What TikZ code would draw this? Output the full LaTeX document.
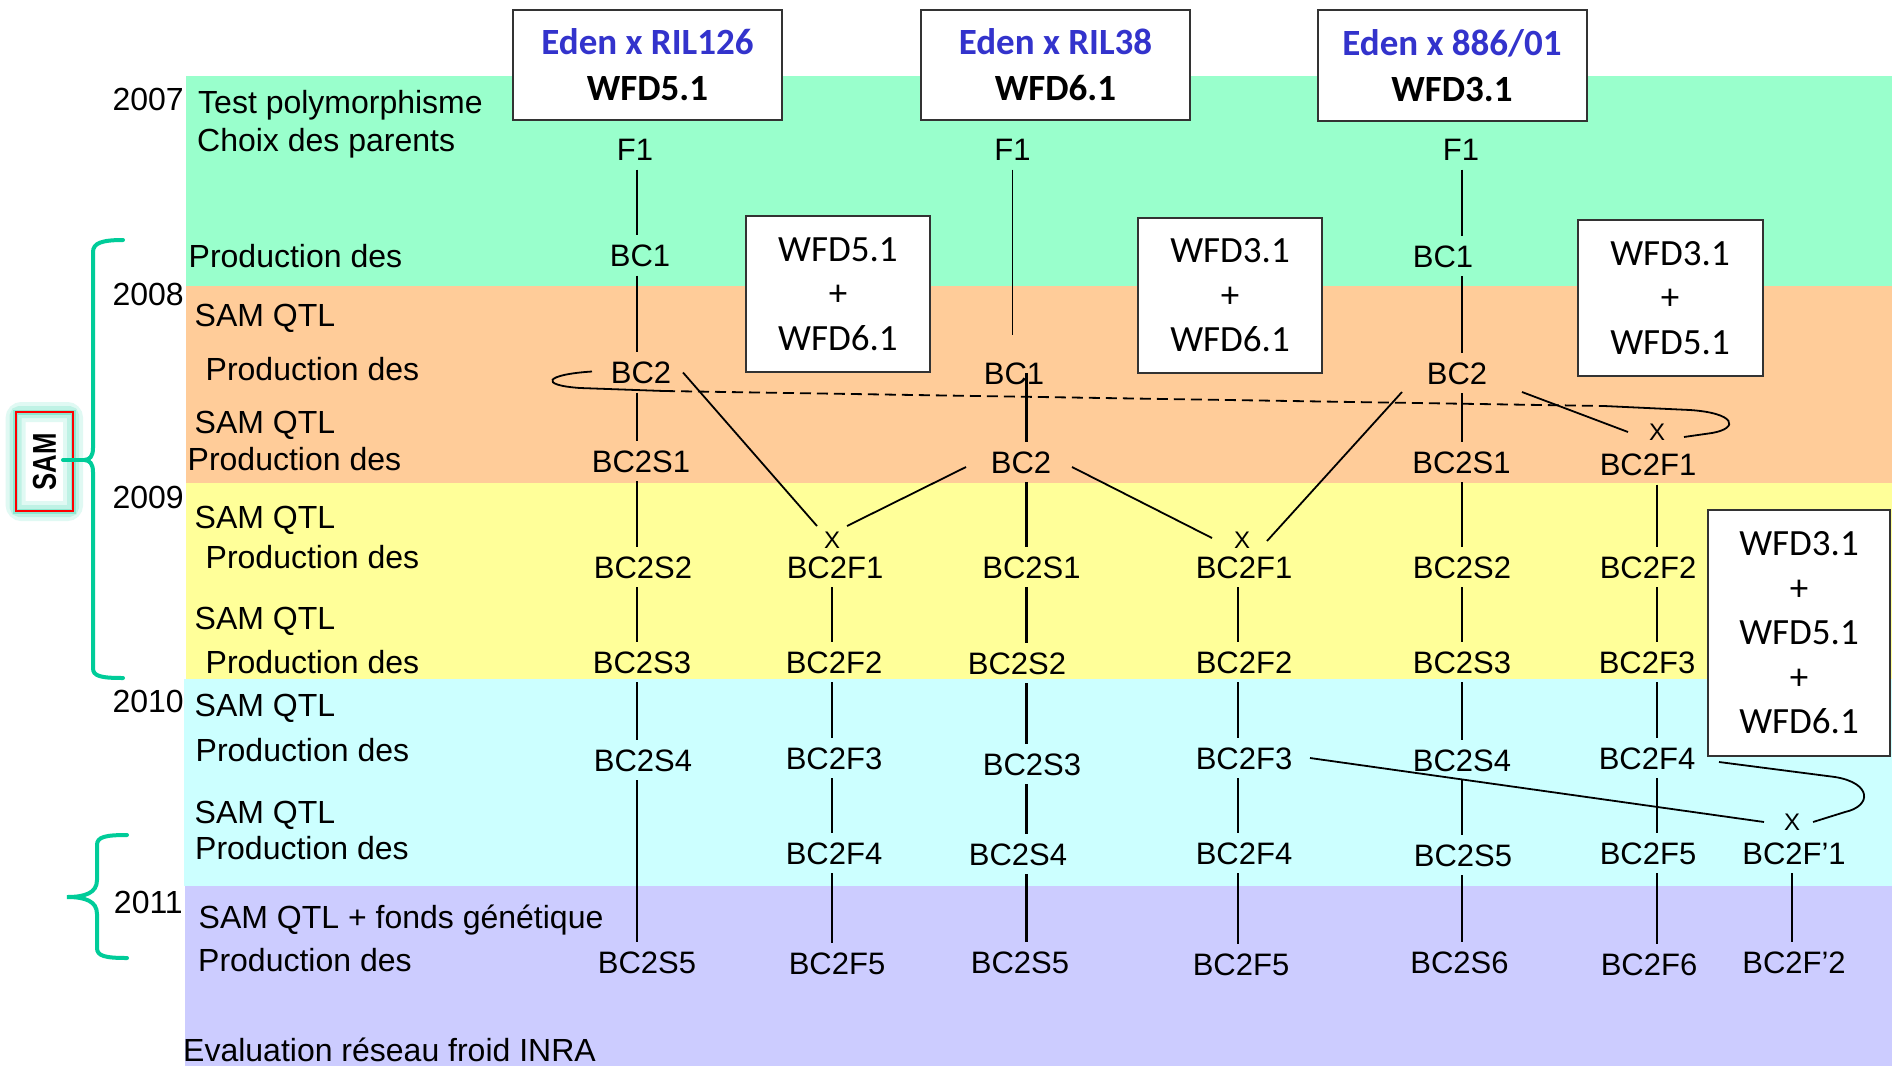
\documentclass[tikz,border=0pt]{standalone}
\usepackage{fontspec}
\setmainfont{Liberation Sans}
\newfontfamily\calfont{Carlito}
\definecolor{bgreen}{RGB}{153,255,204}
\definecolor{borange}{RGB}{255,204,153}
\definecolor{byellow}{RGB}{255,255,153}
\definecolor{bcyan}{RGB}{204,255,255}
\definecolor{bpurple}{RGB}{204,204,255}
\definecolor{edenblue}{RGB}{51,51,204}
\definecolor{bracecol}{RGB}{0,204,153}
\begin{document}
\begin{tikzpicture}[x=1pt,y=-1pt,
  lbl/.style={font=\fontsize{32}{38}\selectfont, anchor=base west, inner sep=0pt},
  yr/.style={font=\fontsize{32}{38}\selectfont, anchor=base east, inner sep=0pt},
  gen/.style={font=\fontsize{31}{31}\selectfont, inner xsep=0pt, inner ysep=9pt, text height=22pt, text depth=0pt},
  cross/.style={font=\fontsize{24}{24}\selectfont, inner sep=0pt, text height=17pt, text depth=0pt},
  link/.style={line width=1.8pt, black},
  thicklink/.style={line width=2.6pt, black},
  dlink/.style={line width=1.8pt, black, dash pattern=on 11pt off 6pt},
  parentbox/.style={draw=black!80, line width=2pt, fill=white, align=center, inner sep=0pt,
    font=\calfont\bfseries\fontsize{37}{46}\selectfont},
  wfdbox/.style={draw=black!80, line width=2pt, fill=white, align=center, inner sep=0pt,
    font=\calfont\fontsize{37}{44.5}\selectfont},
  brace/.style={draw=bracecol, line width=4pt, line cap=round}
]
\useasboundingbox (0,0) rectangle (1892,1066);
\fill[white] (0,0) rectangle (1892,1066);
% bands
\fill[bgreen] (186,76) rectangle (1892,286);
\fill[borange] (186,286) rectangle (1892,483);
\fill[byellow] (186,483) rectangle (1892,679);
\fill[bcyan] (184,679) rectangle (1892,886);
\fill[bpurple] (185,886) rectangle (1892,1066);

% years
\node[yr] (y2007) at (184,110) {2007};
\node[yr] (y2008) at (184,305) {2008};
\node[yr] (y2009) at (184,508) {2009};
\node[yr] (y2010) at (184,712) {2010};
\node[yr] (y2011) at (183,913) {2011};

% left labels
\node[lbl] (l1) at (198,113.3) {Test polymorphisme};
\node[lbl] (l2) at (197,151.7) {Choix des parents};
\node[lbl] (l3) at (188.5,267) {Production des};
\node[lbl] (l4) at (194.5,326.7) {SAM QTL};
\node[lbl] (l5) at (205.5,380) {Production des};
\node[lbl] (l6) at (194.5,433.3) {SAM QTL};
\node[lbl] (l7) at (187.5,470) {Production des};
\node[lbl] (l8) at (194.5,528.3) {SAM QTL};
\node[lbl] (l9) at (205.5,568.3) {Production des};
\node[lbl] (l10) at (194.5,629.3) {SAM QTL};
\node[lbl] (l11) at (205.5,673.3) {Production des};
\node[lbl] (l12) at (194.5,716.7) {SAM QTL};
\node[lbl] (l13) at (195.5,761.7) {Production des};
\node[lbl] (l14) at (194.5,823.3) {SAM QTL};
\node[lbl] (l15) at (195,859.3) {Production des};
\node[lbl] (l16) at (198.5,928.3) {SAM QTL + fonds génétique};
\node[lbl] (l17) at (198,971.7) {Production des};
\node[lbl, text depth=0pt] (l18) at (183,1061) {Evaluation réseau froid INRA};

% SAM box with glow
\fill[white] (15.7,412) rectangle (73,511);
\draw[bracecol!12, line width=20pt, rounded corners=6pt] (15.7,412) rectangle (73,511);
\draw[bracecol!25, line width=12pt, rounded corners=4pt] (15.7,412) rectangle (73,511);
\draw[bracecol!45, line width=5pt] (15.7,412) rectangle (73,511);
\draw[red, line width=1.6pt] (15.7,412) rectangle (73,511);
\node[rotate=90, font=\bfseries\fontsize{33}{33}\selectfont, inner sep=0pt] (sam) at (44.5,462) {\scalebox{0.78}[1]{SAM}};

% braces
\draw[brace] (123,240) .. controls (102,240) and (93,243) .. (93,252) -- (93,448)
  .. controls (93,456) and (90,460) .. (84,460) .. controls (90,460) and (93,464) .. (93,472)
  -- (93,668) .. controls (93,676) and (100,678) .. (123,678);
\draw[brace] (63,460) -- (84,460);
\draw[brace] (127,835) .. controls (105,835) and (97,837) .. (97,845) -- (97,880)
  .. controls (97,893) and (85,897) .. (67,897) .. controls (85,897) and (97,901) .. (97,914)
  -- (97,948) .. controls (97,956) and (105,958) .. (127,958);

% parent boxes
\node[parentbox, minimum width=269pt, minimum height=110pt] (p1) at (647.5,65) {{\color{edenblue}Eden x RIL126}\\WFD5.1};
\node[parentbox, minimum width=269pt, minimum height=110pt] (p2) at (1055.5,65) {{\color{edenblue}Eden x RIL38}\\WFD6.1};
\node[parentbox, minimum width=269pt, minimum height=111pt] (p3) at (1452,65.5) {{\color{edenblue}Eden x 886/01}\\WFD3.1};

% combination boxes
\node[wfdbox, minimum width=184pt, minimum height=156pt] (wa) at (838,294) {WFD5.1\\+\\WFD6.1};
\node[wfdbox, minimum width=184pt, minimum height=155pt] (wb) at (1230,295.5) {WFD3.1\\+\\WFD6.1};
\node[wfdbox, minimum width=185pt, minimum height=156pt] (wc) at (1670,298) {WFD3.1\\+\\WFD5.1};
\node[wfdbox, minimum width=182pt, minimum height=246pt] (wd) at (1799,633) {WFD3.1\\+\\WFD5.1\\+\\WFD6.1};

% column 1
\node[gen] (c1f1) at (635,149.5) {F1};
\node[gen] (c1b1) at (640,255.5) {BC1};
\node[gen] (c1b2) at (641,372.5) {BC2};
\node[gen] (c1s1) at (641,461) {BC2S1};
\node[gen] (c1s2) at (643,567) {BC2S2};
\node[gen] (c1s3) at (642,662) {BC2S3};
\node[gen] (c1s4) at (643,760) {BC2S4};
\node[gen] (c1s5) at (647,962) {BC2S5};
% column 2
\node[cross] (x1) at (832,540) {X};
\node[gen] (c2f1) at (835,567) {BC2F1};
\node[gen] (c2f2) at (834,662) {BC2F2};
\node[gen] (c2f3) at (834,758) {BC2F3};
\node[gen] (c2f4) at (834,853) {BC2F4};
\node[gen] (c2f5) at (837,963) {BC2F5};
% column 3
\node[gen] (c3f1) at (1012.5,149.5) {F1};
\node[gen] (c3b1) at (1014,373) {BC1};
\node[gen] (c3b2) at (1021,462) {BC2};
\node[gen] (c3s1) at (1031.5,567) {BC2S1};
\node[gen] (c3s2) at (1017,663) {BC2S2};
\node[gen] (c3s3) at (1032,764) {BC2S3};
\node[gen] (c3s4) at (1018,854) {BC2S4};
\node[gen] (c3s5) at (1020,962.5) {BC2S5};
% column 4
\node[cross] (x2) at (1242,540) {X};
\node[gen] (c4f1) at (1244,567) {BC2F1};
\node[gen] (c4f2) at (1244,662) {BC2F2};
\node[gen] (c4f3) at (1244,758) {BC2F3};
\node[gen] (c4f4) at (1244,853) {BC2F4};
\node[gen] (c4f5) at (1241,964) {BC2F5};
% column 5
\node[gen] (c5f1) at (1461,149.5) {F1};
\node[gen] (c5b1) at (1443,256) {BC1};
\node[gen] (c5b2) at (1457,373) {BC2};
\node[gen] (c5s1) at (1461.5,462) {BC2S1};
\node[gen] (c5s2) at (1462,567) {BC2S2};
\node[gen] (c5s3) at (1462,662) {BC2S3};
\node[gen] (c5s4) at (1462,760) {BC2S4};
\node[gen] (c5s5) at (1463,855) {BC2S5};
\node[gen] (c5s6) at (1459.5,962) {BC2S6};
% column 6
\node[cross] (x3) at (1657,432) {X};
\node[gen] (c6f1) at (1648,464.5) {BC2F1};
\node[gen] (c6f2) at (1648,567) {BC2F2};
\node[gen] (c6f3) at (1647,662) {BC2F3};
\node[gen] (c6f4) at (1647,758) {BC2F4};
\node[gen] (c6f5) at (1648,853) {BC2F5};
\node[gen] (c6f6) at (1649,964) {BC2F6};
% column 7
\node[cross] (x4) at (1792,822) {X};
\node[gen] (c7f1) at (1794,853) {BC2F’1};
\node[gen] (c7f2) at (1794,962.5) {BC2F’2};

% column line abscissae
\coordinate (k1) at (637,0);
\coordinate (k2) at (832,0);
\coordinate (k3) at (1026.5,0);
\coordinate (k4) at (1238,0);
\coordinate (k5) at (1462,0);
\coordinate (k6) at (1657,0);
\coordinate (k7) at (1792,0);

% vertical links
\foreach \a/\b/\k in {c1f1/c1b1/k1, c1b1/c1b2/k1, c1b2/c1s1/k1, c1s1/c1s2/k1, c1s2/c1s3/k1, c1s3/c1s4/k1, c1s4/c1s5/k1,
  c2f1/c2f2/k2, c2f2/c2f3/k2, c2f3/c2f4/k2, c2f4/c2f5/k2,
  c4f1/c4f2/k4, c4f2/c4f3/k4, c4f3/c4f4/k4, c4f4/c4f5/k4,
  c5f1/c5b1/k5, c5b1/c5b2/k5, c5b2/c5s1/k5, c5s1/c5s2/k5, c5s2/c5s3/k5, c5s3/c5s4/k5, c5s4/c5s5/k5, c5s5/c5s6/k5,
  c6f1/c6f2/k6, c6f2/c6f3/k6, c6f3/c6f4/k6, c6f4/c6f5/k6, c6f5/c6f6/k6,
  c7f1/c7f2/k7}
  \draw[link] (\a.south -| \k) -- (\b.north -| \k);
\foreach \a/\b in {c3b2/c3s1, c3s1/c3s2, c3s2/c3s3, c3s3/c3s4, c3s4/c3s5}
  \draw[thicklink] (\a.south -| k3) -- (\b.north -| k3);
\draw[link, shorten >=18pt] (c3f1.south) -- (c3f1.south |- c3b1.north);
\draw[thicklink] (c3b1.center -| k3) -- (c3b2.north -| k3);

% crosses
\draw[link] ([shift={(42,0)}]c1b2.center) -- ([shift={(-15,-14)}]x1.center);
\draw[link] ([shift={(-55,5)}]c3b2.center) -- ([shift={(15,-14)}]x1.center);
\draw[link] ([shift={(51,5)}]c3b2.center) -- ([shift={(-30,-2)}]x2.center);
\draw[link] ([shift={(-55,19)}]c5b2.center) -- ([shift={(25,1)}]x2.center);
\draw[link] ([shift={(65,19)}]c5b2.center) -- ([shift={(-29,0)}]x3.center);
\draw[link] ([shift={(66,0)}]c4f3.center) -- ([shift={(-28,0)}]x4.center);

% loop from col1 BC2 to X3
\coordinate (loopL) at (664,391);
\coordinate (loopR) at (1604,406);
\draw[link] ([shift={(-49,-1)}]c1b2.center) .. controls (545,374.5) and (538,385) .. (580,388) -- (loopL);
\draw[dlink] (loopL) -- (loopR);
\draw[link] (loopR) -- (1690,410) .. controls (1735,413) and (1740,428) .. (1712,433) -- ([shift={(27,5)}]x3.center);

% loop from col6 BC2F4 to X4
\draw[link] ([shift={(72,4)}]c6f4.center) -- (1835,777) .. controls (1872,783) and (1872,806) .. (1845,812) -- ([shift={(21,0)}]x4.center);
\end{tikzpicture}
\end{document}
